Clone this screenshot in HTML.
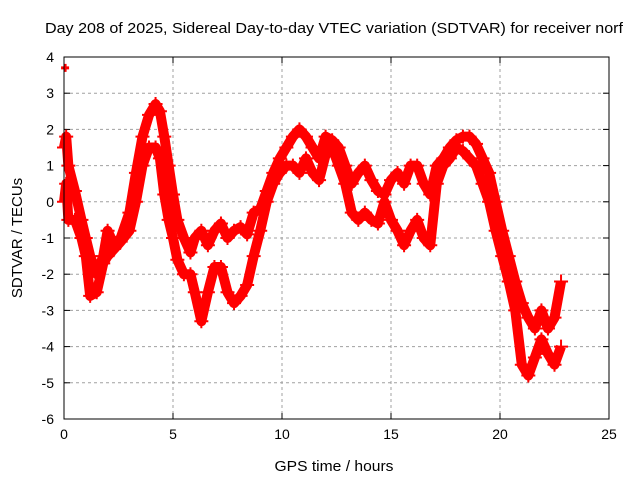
<!DOCTYPE html>
<html><head><meta charset="utf-8"><style>
body{margin:0;background:#fff;}
svg{display:block;font-family:"Liberation Sans",sans-serif;}
</style></head><body>
<svg id="chart" width="640" height="480">
<text x="334" y="33" font-size="15" text-anchor="middle" textLength="578" lengthAdjust="spacingAndGlyphs">Day 208 of 2025, Sidereal Day-to-day VTEC variation (SDTVAR) for receiver norf</text>
<text x="334" y="471" font-size="15" text-anchor="middle" textLength="119" lengthAdjust="spacingAndGlyphs">GPS time / hours</text>
<text x="22" y="238" font-size="15" text-anchor="middle" transform="rotate(-90 22 238)">SDTVAR / TECUs</text>
<g id="grid"></g>
<g id="axes"></g>
<g id="marks"></g>
<rect x="64" y="57" width="545" height="362" fill="none" stroke="#000" stroke-width="1"/>
</svg>
<script>
const xTicks=[0,5,10,15,20,25];
const yTicks=[4,3,2,1,0,-1,-2,-3,-4,-5,-6];
const times=[0,0.1,0.2,0.5,0.8,1.0,1.2,1.5,1.8,2.0,2.3,2.6,3.0,3.3,3.6,3.9,4.2,4.4,4.6,4.8,5.0,5.2,5.5,5.8,6.0,6.3,6.6,6.9,7.2,7.5,7.8,8.1,8.4,8.7,9.0,9.3,9.6,9.9,10.2,10.5,10.8,11.1,11.4,11.7,12.0,12.3,12.6,12.9,13.2,13.5,13.8,14.1,14.4,14.7,15.0,15.3,15.6,15.9,16.2,16.5,16.8,17.1,17.4,17.7,18.0,18.3,18.6,18.9,19.2,19.5,19.8,20.1,20.4,20.7,21.0,21.3,21.6,21.9,22.2,22.5,22.8];
const upperTrack=[1.5,1.8,1.0,0.3,-0.5,-1.0,-1.5,-2.0,-1.5,-0.8,-1.2,-1.0,-0.3,0.8,1.8,2.4,2.7,2.5,1.8,1.0,0.2,-0.5,-1.0,-1.4,-1.0,-0.8,-1.2,-0.8,-0.6,-1.0,-0.8,-0.7,-0.9,-0.3,-0.2,0.3,0.8,1.2,1.5,1.8,2.0,1.8,1.5,1.2,1.8,1.7,1.5,1.0,0.5,0.8,1.0,0.6,0.3,0.2,0.6,0.8,0.5,1.0,1.0,0.5,0.2,1.0,1.2,1.5,1.7,1.8,1.8,1.6,1.2,0.8,0.0,-0.8,-1.5,-2.2,-2.8,-3.2,-3.5,-3.0,-3.5,-3.2,-2.2];
const lowerTrack=[0.0,0.5,-0.5,-0.5,-1.0,-1.5,-2.6,-2.5,-1.7,-1.5,-1.3,-1.1,-0.8,0.0,1.0,1.5,1.5,1.2,0.2,-0.5,-1.0,-1.6,-2.0,-2.0,-2.5,-3.3,-2.5,-1.8,-1.8,-2.5,-2.8,-2.6,-2.3,-1.5,-0.8,0.0,0.5,0.8,1.0,1.0,0.8,1.2,0.8,0.6,1.3,1.5,1.0,0.5,-0.3,-0.5,-0.3,-0.5,-0.6,0.0,-0.5,-0.8,-1.2,-0.8,-0.5,-1.0,-1.2,0.5,1.0,1.2,1.5,1.4,1.2,1.0,0.5,0.0,-0.8,-1.5,-2.2,-3.0,-4.5,-4.8,-4.3,-3.8,-4.2,-4.5,-4.0];
const outlierTimes=[0.05];
const outlierValues=[3.7];
const X0=64,X1=609,Y0=57,Y1=419;
const xs=t=>X0+(t-0)/(25-0)*(X1-X0);
const ys=v=>Y0+(4-v)/(4-(-6))*(Y1-Y0);
const NS="http://www.w3.org/2000/svg";
function mk(tag,attrs,parent){const e=document.createElementNS(NS,tag);for(const k in attrs)e.setAttribute(k,attrs[k]);parent.appendChild(e);return e;}
const grid=document.getElementById('grid'),axes=document.getElementById('axes'),marks=document.getElementById('marks');
xTicks.forEach(t=>{
  const x=xs(t);
  if(t>0&&t<25){const l=mk('line',{x1:x,x2:x,y1:Y0,y2:Y1,stroke:'#a0a0a0','stroke-dasharray':'3,3'},grid);
  
  }
  mk('line',{x1:x,x2:x,y1:Y1,y2:Y1-6,stroke:'#000'},axes);
  mk('line',{x1:x,x2:x,y1:Y0,y2:Y0+6,stroke:'#000'},axes);
  const tx=mk('text',{x:x,y:Y1+20,'font-size':14,'text-anchor':'middle'},axes);tx.textContent=t;
  
  
});
yTicks.forEach(v=>{
  const y=ys(v);
  if(v<4&&v>-6){const l=mk('line',{x1:X0,x2:X1,y1:y,y2:y,stroke:'#a0a0a0','stroke-dasharray':'3,3'},grid);
  
  }
  mk('line',{x1:X0,x2:X0+6,y1:y,y2:y,stroke:'#000'},axes);
  mk('line',{x1:X1,x2:X1-6,y1:y,y2:y,stroke:'#000'},axes);
  const tx=mk('text',{x:X0-10,y:y+5,'font-size':14,'text-anchor':'end'},axes);tx.textContent=v;
  
  
});
function track(vals,name){
  const p=mk('polyline',{points:times.map((t,i)=>xs(t)+','+ys(vals[i])).join(' '),fill:'none',stroke:'#ff0000','stroke-width':10,'stroke-linejoin':'round'},marks);
  
  
  times.forEach((t,i)=>{
    const x=xs(t),y=ys(vals[i]);
    const m=mk('path',{d:`M${x-7},${y}H${x+7}M${x},${y-7}V${y+7}`,stroke:'#ff0000','stroke-width':2},marks);
    
    
  });
}
track(upperTrack,'upper-track');
track(lowerTrack,'lower-track');
outlierTimes.forEach((t,i)=>{
  const x=xs(t),y=ys(outlierValues[i]);
  const m=mk('path',{d:`M${x-4},${y}H${x+4}M${x},${y-4}V${y+4}`,stroke:'#ff0000','stroke-width':3},marks);
  
  
});
</script>
</body></html>
